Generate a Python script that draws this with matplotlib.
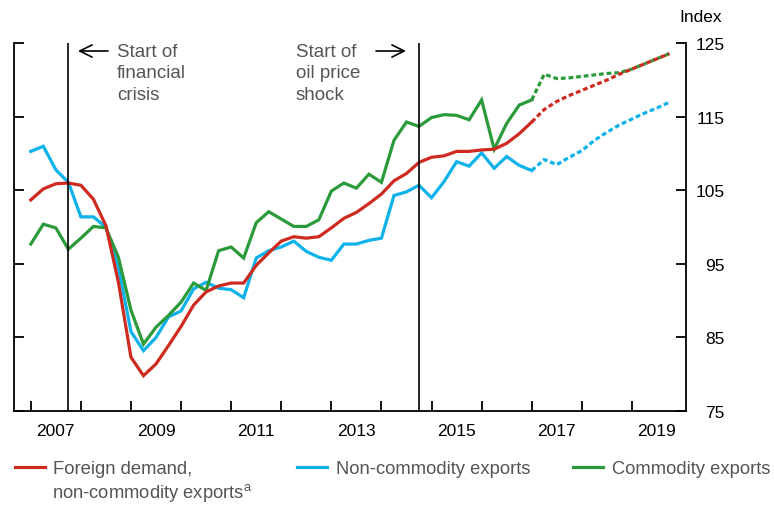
import matplotlib.pyplot as plt
import numpy as np
from matplotlib.lines import Line2D

plt.rcParams['font.family'] = ['Liberation Sans', 'DejaVu Sans']
plt.rcParams['mathtext.fontset'] = 'custom'
plt.rcParams['mathtext.rm'] = 'Liberation Sans'

# quarterly data, 2007Q1 - 2019Q4 (projection from 2017Q1)
quarters = np.arange(2007, 2020, 0.25)
foreign_demand = [103.7, 105.2, 105.9, 106.0, 105.7, 103.8, 100.2, 92.5,
                  82.3, 79.8, 81.4, 83.9, 86.5, 89.4, 91.2, 92.0,
                  92.4, 92.4, 94.8, 96.5, 98.1, 98.7, 98.5, 98.7,
                  99.9, 101.2, 102.0, 103.2, 104.5, 106.3, 107.3, 108.8,
                  109.5, 109.7, 110.3, 110.3, 110.5, 110.6, 111.4, 112.7,
                  114.3, 116.0, 117.1, 117.9, 118.6, 119.3, 120.0, 120.8,
                  121.5, 122.2, 122.9, 123.6]
non_commodity = [110.3, 111.0, 107.8, 106.1, 101.4, 101.4, 100.0, 94.5,
                 85.8, 83.2, 85.0, 87.8, 88.6, 91.6, 92.5, 91.7,
                 91.5, 90.4, 95.8, 96.8, 97.3, 98.1, 96.7, 95.9,
                 95.5, 97.7, 97.7, 98.2, 98.5, 104.3, 104.8, 105.7,
                 104.0, 106.2, 108.9, 108.3, 110.1, 108.0, 109.6, 108.4,
                 107.7, 109.2, 108.5, 109.5, 110.4, 111.8, 112.9, 113.9,
                 114.7, 115.5, 116.2, 117.0]
commodity = [97.7, 100.4, 99.9, 97.0, 98.5, 100.1, 99.9, 95.9,
             88.7, 84.1, 86.4, 88.0, 89.8, 92.4, 91.4, 96.8,
             97.3, 95.8, 100.6, 102.1, 101.1, 100.1, 100.1, 101.0,
             104.9, 106.0, 105.3, 107.2, 106.1, 111.8, 114.3, 113.7,
             114.9, 115.3, 115.2, 114.6, 117.3, 110.6, 114.1, 116.6,
             117.3, 120.8, 120.2, 120.3, 120.5, 120.7, 120.9, 121.0,
             121.5, 122.2, 122.9, 123.6]
proj_start = 40  # 2017Q1

crisis_date = 2007.75
oil_date = 2014.75
years = list(range(2007, 2020))
label_years = [2007, 2009, 2011, 2013, 2015, 2017, 2019]

red = '#cf2a1f'
blue = '#0db2ea'
green = '#2b9a3a'
grey = '#555555'

fig = plt.figure(figsize=(7.74, 5.06), dpi=100)
W, H = 774, 506
ax = fig.add_axes([14 / W, 1 - 412 / H, (686 - 14) / W, (412 - 44.3) / H])

lw = 2.3
dots = (0, (1.5, 0.9))
for vals, col in [(non_commodity, blue), (commodity, green), (foreign_demand, red)]:
    ax.plot(quarters[:proj_start + 1], vals[:proj_start + 1], color=col, lw=lw,
            solid_joinstyle='miter')
    ax.plot(quarters[proj_start:], vals[proj_start:], color=col, lw=lw, linestyle=dots)

ax.axvline(crisis_date, color='black', lw=1.2)
ax.axvline(oil_date, color='black', lw=1.2)

ax.set_xlim(2006.665, 2020.08)
ax.set_ylim(75, 125)

ax.spines['top'].set_visible(False)
for s in ['left', 'right', 'bottom']:
    ax.spines[s].set_linewidth(1.3)

ax.set_yticks([75, 85, 95, 105, 115, 125])
ax.tick_params(axis='y', left=True, right=True, labelleft=False, labelright=True,
               direction='in', length=7, width=1.3, labelsize=12.5, pad=28)
for t in ax.get_yticklabels():
    t.set_horizontalalignment('right')

ax.set_xticks(years)
ax.set_xticklabels([])
ax.set_xticks([y + 0.5 for y in label_years], minor=True)
ax.set_xticklabels([str(y) for y in label_years], minor=True)
ax.tick_params(axis='x', which='major', direction='in', length=7, width=1.3)
ax.tick_params(axis='x', which='minor', length=0, labelsize=12.5, pad=9)

fig.text(722 / W, 1 - 17 / H, 'Index', ha='right', va='center', fontsize=12.5)

# annotations
fig.text(117 / W, 1 - 74 / H, 'Start of\nfinancial\ncrisis', ha='left', va='center',
         fontsize=13.5, color=grey, linespacing=1.32)
fig.text(296 / W, 1 - 74 / H, 'Start of\noil price\nshock', ha='left', va='center',
         fontsize=13.5, color=grey, linespacing=1.32)
ax.annotate('', xy=(78 / W, 1 - 52 / H), xytext=(108 / W, 1 - 52 / H),
            xycoords='figure fraction', textcoords='figure fraction',
            arrowprops=dict(arrowstyle='->', lw=1.2, color='black', mutation_scale=22,
                            shrinkA=0, shrinkB=0))
ax.annotate('', xy=(406 / W, 1 - 52 / H), xytext=(376 / W, 1 - 52 / H),
            xycoords='figure fraction', textcoords='figure fraction',
            arrowprops=dict(arrowstyle='->', lw=1.2, color='black', mutation_scale=22,
                            shrinkA=0, shrinkB=0))

# legend
entries = [(red, 'Foreign demand,', 15), (blue, 'Non-commodity exports', 297),
           (green, 'Commodity exports', 573)]
for col, lab, xpos in entries:
    leg = fig.legend([Line2D([], [], color=col, lw=lw)], [lab], loc='center left',
                     bbox_to_anchor=(xpos / W, 1 - 470 / H), frameon=False,
                     borderpad=0, borderaxespad=0, handlelength=1.65,
                     handletextpad=0.45, fontsize=13.2)
    for t in leg.get_texts():
        t.set_color(grey)
fig.text(52 / W, 1 - 493 / H, r'non-commodity exports$^{\mathrm{a}}$', ha='left',
         va='center', fontsize=13.2, color=grey)

fig.savefig('out.png', dpi=100)
